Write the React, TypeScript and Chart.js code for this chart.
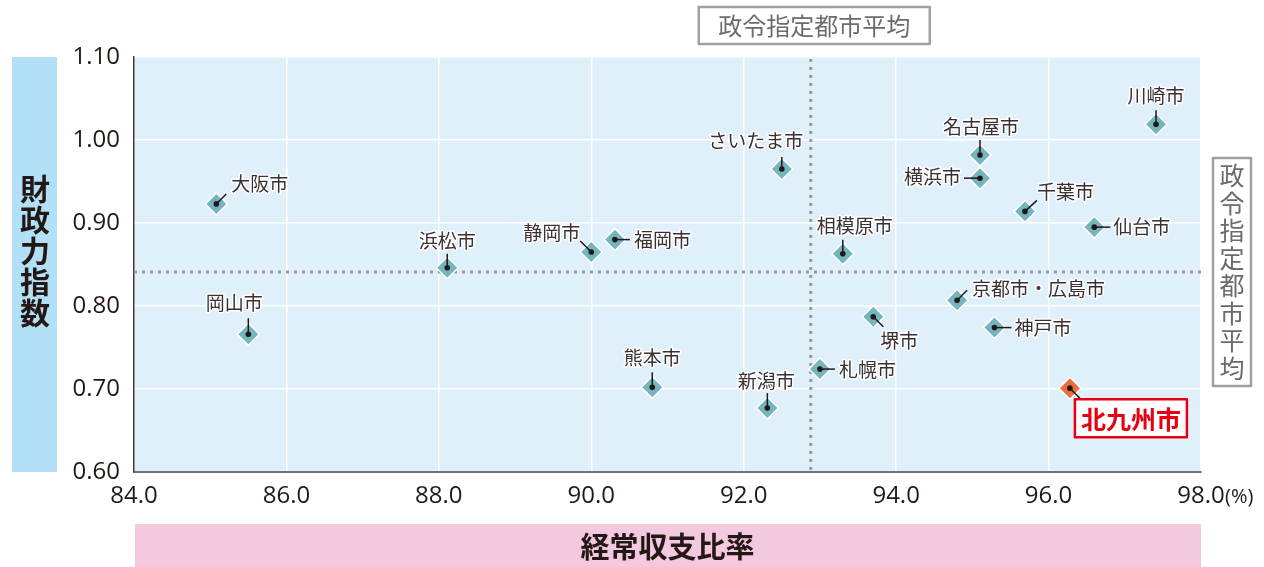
import React, { useEffect, useRef } from "react";
import { Chart, registerables } from "chart.js";

Chart.register(...registerables);

// ---- data ----
const cities = [
  "大阪市", "岡山市", "浜松市", "静岡市", "福岡市", "熊本市", "新潟市", "さいたま市", "札幌市",
  "相模原市", "堺市", "京都市・広島市", "横浜市", "名古屋市", "神戸市", "千葉市", "仙台市", "川崎市",
];
const expenseRatio = [
  85.08, 85.5, 88.11, 90.0, 90.31, 90.8, 92.31, 92.5, 93.0,
  93.3, 93.7, 94.8, 95.1, 95.1, 95.29, 95.69, 96.6, 97.41,
];
const fiscalIndex = [
  0.923, 0.766, 0.846, 0.865, 0.88, 0.702, 0.677, 0.965, 0.724,
  0.863, 0.787, 0.807, 0.954, 0.982, 0.774, 0.914, 0.895, 1.019,
];
const highlightCity = "北九州市";
const highlightRatio = [96.28];
const highlightIndex = [0.701];
const avgRatio = 92.88;
const avgIndex = 0.841;
const avgLabel = "政令指定都市平均";
const xTicks = [84, 86, 88, 90, 92, 94, 96, 98];
const yTicks = [0.6, 0.7, 0.8, 0.9, 1.0, 1.1];
const xTitle = "経常収支比率";
const yTitle = "財政力指数";
const xUnit = "(%)";

// ---- label layout (offsets from the point, px) ----
type Lay = { lx: number; ly: number; tx: number; ty: number; align: CanvasTextAlign };
const labelLayout: Lay[] = [
  { lx: 10, ly: -10, tx: 15, ty: -20, align: "left" },
  { lx: 0, ly: -16, tx: -14, ty: -31, align: "center" },
  { lx: 0, ly: -14, tx: 0, ty: -27, align: "center" },
  { lx: -11, ly: -11, tx: -11, ty: -19, align: "right" },
  { lx: 15, ly: 0, tx: 19, ty: 0, align: "left" },
  { lx: 0, ly: -15, tx: 0, ty: -30, align: "center" },
  { lx: 0, ly: -15, tx: -1, ty: -27, align: "center" },
  { lx: 0, ly: -12, tx: -26, ty: -28, align: "center" },
  { lx: 15, ly: 0, tx: 19, ty: 1, align: "left" },
  { lx: 0, ly: -14, tx: 12, ty: -28, align: "center" },
  { lx: 10, ly: 10, tx: 7, ty: 24, align: "left" },
  { lx: 10, ly: -10, tx: 15, ty: -11, align: "left" },
  { lx: -16, ly: 0, tx: -19, ty: -1, align: "right" },
  { lx: 0, ly: -15, tx: 1, ty: -28, align: "center" },
  { lx: 17, ly: 0, tx: 20, ty: 0, align: "left" },
  { lx: 12, ly: -11, tx: 12, ty: -20, align: "left" },
  { lx: 16, ly: 0, tx: 19, ty: 0, align: "left" },
  { lx: 0, ly: -14, tx: 0, ty: -28, align: "center" },
];

const CJK = '"Noto Sans CJK JP", "Noto Sans", sans-serif';
const NUM = '"Open Sans", "Noto Sans", sans-serif';

const decorPlugin = {
  id: "decor",
  beforeDraw(chart: any) {
    const { ctx, chartArea: a } = chart;
    ctx.save();
    ctx.fillStyle = "#dff0fa";
    ctx.fillRect(a.left, a.top, a.right - a.left, a.bottom - a.top);
    ctx.fillStyle = "#b2e0f6";
    ctx.fillRect(12, a.top, 45, a.bottom - a.top);
    ctx.fillStyle = "#f2c9de";
    ctx.fillRect(a.left + 1, 524, a.right - a.left - 1, 43);
    ctx.restore();
  },
  beforeDatasetsDraw(chart: any) {
    const { ctx, chartArea: a, scales } = chart;
    const ax = scales.x.getPixelForValue(avgRatio);
    const ay = scales.y.getPixelForValue(avgIndex);
    ctx.save();
    ctx.strokeStyle = "#9a9a9a";
    ctx.lineWidth = 3;
    ctx.setLineDash([3, 5]);
    ctx.beginPath();
    ctx.moveTo(ax, a.top + 2);
    ctx.lineTo(ax, a.bottom);
    ctx.moveTo(a.left, ay);
    ctx.lineTo(a.right, ay);
    ctx.stroke();
    ctx.restore();
  },
  afterDatasetsDraw(chart: any) {
    const { ctx, chartArea: a, scales } = chart;
    const sx = scales.x, sy = scales.y;
    ctx.save();
    ctx.font = `19px ${CJK}`;
    ctx.textBaseline = "middle";
    cities.forEach((c, i) => {
      const px = sx.getPixelForValue(expenseRatio[i]);
      const py = sy.getPixelForValue(fiscalIndex[i]);
      const L = labelLayout[i];
      ctx.strokeStyle = "#231815";
      ctx.lineWidth = 1.5;
      ctx.beginPath();
      ctx.moveTo(px, py);
      ctx.lineTo(px + L.lx, py + L.ly);
      ctx.stroke();
      ctx.fillStyle = "#231815";
      ctx.beginPath();
      ctx.arc(px, py, 2.8, 0, Math.PI * 2);
      ctx.fill();
      ctx.textAlign = L.align;
      ctx.lineJoin = "round";
      ctx.strokeStyle = "#ffffff";
      ctx.lineWidth = 3;
      ctx.strokeText(c, px + L.tx, py + L.ty);
      ctx.fillStyle = "#3a3030";
      ctx.fillText(c, px + L.tx, py + L.ty);
    });
    const hx = sx.getPixelForValue(highlightRatio[0]);
    const hy = sy.getPixelForValue(highlightIndex[0]);
    ctx.strokeStyle = "#231815";
    ctx.lineWidth = 1.5;
    ctx.beginPath();
    ctx.moveTo(hx, hy);
    ctx.lineTo(hx + 10, hy + 10);
    ctx.stroke();
    ctx.fillStyle = "#231815";
    ctx.beginPath();
    ctx.arc(hx, hy, 2.8, 0, Math.PI * 2);
    ctx.fill();
    ctx.fillStyle = "#ffffff";
    ctx.fillRect(hx + 5, hy + 11, 112, 38);
    ctx.strokeStyle = "#e60012";
    ctx.lineWidth = 2.5;
    ctx.strokeRect(hx + 5, hy + 11, 112, 38);
    ctx.fillStyle = "#e60012";
    ctx.font = `bold 25px ${CJK}`;
    ctx.textAlign = "center";
    ctx.fillText(highlightCity, hx + 61, hy + 31);

    const ax = sx.getPixelForValue(avgRatio);
    const ay = sy.getPixelForValue(avgIndex);
    ctx.font = `24px ${CJK}`;
    ctx.strokeStyle = "#a0a0a0";
    ctx.lineWidth = 2.5;
    ctx.fillStyle = "#ffffff";
    ctx.fillRect(ax - 112, 7, 231, 37);
    ctx.strokeRect(ax - 112, 7, 231, 37);
    ctx.fillStyle = "#6b6b6b";
    ctx.textAlign = "center";
    ctx.fillText(avgLabel, ax + 3.5, 26);
    const rx = 1232;
    ctx.fillStyle = "#ffffff";
    ctx.fillRect(rx - 19, ay - 114, 38, 228);
    ctx.strokeRect(rx - 19, ay - 114, 38, 228);
    ctx.fillStyle = "#6b6b6b";
    ctx.font = `25px ${CJK}`;
    Array.from(avgLabel).forEach((ch, k) => {
      ctx.fillText(ch, rx, ay - 96 + k * 27.5);
    });

    ctx.fillStyle = "#231815";
    ctx.font = `bold 30px ${CJK}`;
    Array.from(yTitle).forEach((ch, k) => {
      ctx.fillText(ch, 35, 189 + k * 31);
    });
    ctx.font = `bold 29px ${CJK}`;
    ctx.fillText(xTitle, (a.left + a.right) / 2, 547);
    ctx.font = `20px ${NUM}`;
    ctx.textAlign = "left";
    ctx.fillStyle = "#231815";
    ctx.fillText(xUnit, a.right + 24, 497);
    ctx.restore();
  },
};

export default function App() {
  const ref = useRef<HTMLCanvasElement>(null);
  useEffect(() => {
    document.body.style.margin = "0";
    const chart = new Chart(ref.current!, {
      type: "scatter",
      data: {
        datasets: [
          {
            data: expenseRatio.map((x, i) => ({ x, y: fiscalIndex[i] })),
            pointStyle: "rectRot",
            pointRadius: 11,
            backgroundColor: "#74b6c0",
            borderColor: "#ffffff",
            borderWidth: 1.5,
          },
          {
            data: highlightRatio.map((x, i) => ({ x, y: highlightIndex[i] })),
            pointStyle: "rectRot",
            pointRadius: 11,
            backgroundColor: "#ec6d3f",
            borderColor: "#ffffff",
            borderWidth: 1.5,
          },
        ],
      },
      options: {
        animation: false,
        responsive: false,
        events: [],
        layout: { padding: { top: 57, right: 63, left: 0, bottom: 0 } },
        plugins: { legend: { display: false }, tooltip: { enabled: false } },
        scales: {
          x: {
            type: "linear",
            min: 84,
            max: 98,
            afterFit: (s: any) => { s.height = 95; },
            afterBuildTicks: (s: any) => { s.ticks = xTicks.map((v) => ({ value: v })); },
            ticks: {
              padding: 10,
              font: { size: 24, family: NUM },
              color: "#231815",
              callback: (v: any) => Number(v).toFixed(1),
              maxRotation: 0,
            },
            grid: { color: "#ffffff", lineWidth: 1.5, drawTicks: false },
            border: { color: "#727171", width: 2 },
          },
          y: {
            type: "linear",
            min: 0.6,
            max: 1.1,
            afterFit: (s: any) => { s.width = 134; },
            afterBuildTicks: (s: any) => { s.ticks = yTicks.map((v) => ({ value: v })); },
            ticks: {
              padding: 14,
              font: { size: 24, family: NUM },
              color: "#231815",
              callback: (v: any) => Number(v).toFixed(2),
            },
            grid: { color: "#ffffff", lineWidth: 1.5, drawTicks: false },
            border: { color: "#3e3a39", width: 1.5 },
          },
        },
      },
      plugins: [decorPlugin],
    });
    return () => chart.destroy();
  }, []);
  return (
    <div style={{ position: "fixed", left: 0, top: 0, width: 1264, height: 567 }}>
      <canvas ref={ref} width={1264} height={567} style={{ width: 1264, height: 567 }} />
    </div>
  );
}
